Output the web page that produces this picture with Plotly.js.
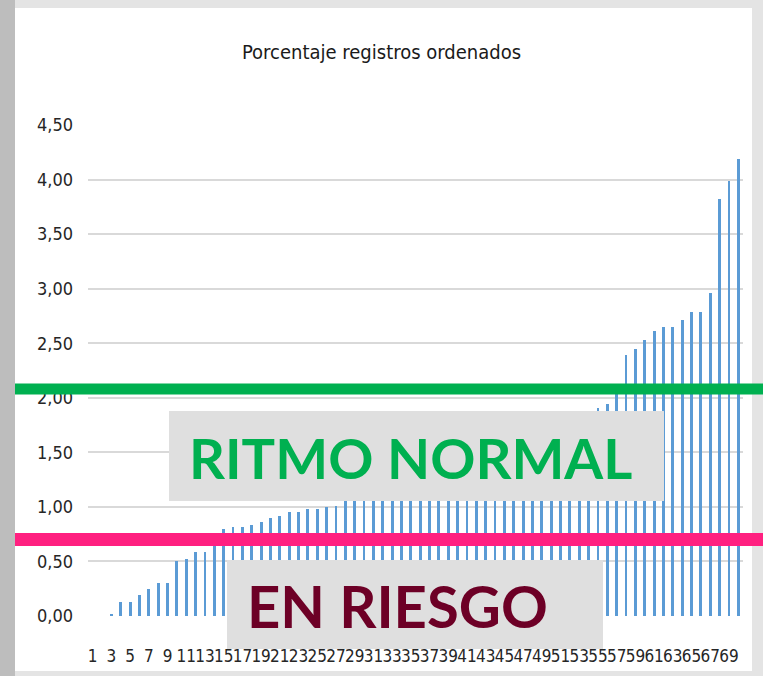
<!DOCTYPE html>
<html>
<head>
<meta charset="utf-8">
<script src="https://cdn.plot.ly/plotly-3.0.1.min.js"></script>
<style>html,body{margin:0;padding:0;background:#e4e4e4;}#chart{width:763px;height:676px;}</style>
</head>
<body>
<div id="chart"></div>
<script>
// Category numbers (records ordered)
var categories = [];
for (var i = 1; i <= 70; i++) categories.push(i);

// Percentages (bars 28-54 are hidden by the label box; estimated)
var values = [
  0.00, 0.00, 0.02, 0.13, 0.13, 0.19, 0.25, 0.30, 0.30, 0.50,
  0.52, 0.59, 0.59, 0.66, 0.80, 0.82, 0.82, 0.83, 0.86, 0.90,
  0.92, 0.95, 0.95, 0.98, 0.98, 1.00, 1.01, 1.05, 1.07, 1.08,
  1.10, 1.12, 1.14, 1.16, 1.18, 1.20, 1.22, 1.25, 1.27, 1.30,
  1.33, 1.36, 1.39, 1.42, 1.45, 1.49, 1.52, 1.56, 1.60, 1.64,
  1.69, 1.74, 1.79, 1.85, 1.91, 1.94, 2.05, 2.39, 2.45, 2.53,
  2.61, 2.65, 2.65, 2.71, 2.79, 2.79, 2.96, 3.82, 3.99, 4.19
];

var xTickVals = categories.filter(function (c) { return c % 2 === 1; });
var xTickText = xTickVals.map(String);
var yTickVals = [0, 0.5, 1, 1.5, 2, 2.5, 3, 3.5, 4, 4.5];

var normalLevel = 2.08;
var riskLevel = 0.70;
var normalLabel = 'RITMO NORMAL';
var riskLabel = 'EN RIESGO';
var chartTitle = 'Porcentaje registros ordenados';

var narrow = '"Liberation Sans Narrow", "DejaVu Sans Condensed", Arial, sans-serif';

var trace = {
  type: 'bar',
  x: categories,
  y: values,
  width: 0.3,
  marker: { color: '#5b9bd5', line: { width: 0 } },
  hoverinfo: 'x+y'
};

// plot area: x 88..743, y 125..616 (px)
function px2x(px) { return (px - 88) / 655; }
function py2y(py) { return (616 - py) / 491; }

var layout = {
  width: 763,
  height: 676,
  margin: { l: 88, r: 20, t: 125, b: 60, pad: 0 },
  paper_bgcolor: '#e4e4e4',
  plot_bgcolor: 'rgba(0,0,0,0)',
  separators: ',.',
  showlegend: false,
  bargap: 0,
  title: {
    text: chartTitle,
    font: { family: narrow, size: 20, color: '#1a1a1a' },
    x: 0.5, xanchor: 'center',
    y: 1 - 52 / 676, yanchor: 'middle'
  },
  xaxis: {
    range: [0.5, 70.5],
    tickmode: 'array',
    tickvals: xTickVals,
    ticktext: xTickText,
    tickangle: 0,
    showgrid: false,
    zeroline: false,
    showline: false,
    ticks: '',
    tickfont: { family: narrow, size: 17, color: '#262626' },
    ticklabelstandoff: 28
  },
  yaxis: {
    range: [0, 4.5],
    tickmode: 'array',
    tickvals: yTickVals,
    tickformat: '.2f',
    showgrid: true,
    gridcolor: '#d9d9d9',
    gridwidth: 2,
    zeroline: false,
    showline: false,
    ticks: '',
    ticklabelstandoff: 14,
    tickfont: { family: narrow, size: 18, color: '#262626' }
  },
  shapes: [
    // white chart card
    { type: 'rect', xref: 'paper', yref: 'paper', layer: 'below',
      x0: px2x(15), x1: px2x(752), y0: py2y(671), y1: py2y(8),
      fillcolor: '#ffffff', line: { width: 0 } },
    // left shading strip
    { type: 'rect', xref: 'paper', yref: 'paper', layer: 'below',
      x0: px2x(0), x1: px2x(15), y0: py2y(676), y1: py2y(0),
      fillcolor: '#bdbdbd', line: { width: 0 } },
    // green threshold line
    { type: 'line', xref: 'paper', yref: 'y', layer: 'above',
      x0: px2x(15), x1: px2x(763), y0: normalLevel, y1: normalLevel,
      line: { color: '#00b050', width: 11 } },
    // pink threshold line
    { type: 'line', xref: 'paper', yref: 'y', layer: 'above',
      x0: px2x(15), x1: px2x(763), y0: riskLevel, y1: riskLevel,
      line: { color: '#ff2080', width: 13 } },
    // label boxes
    { type: 'rect', xref: 'paper', yref: 'paper', layer: 'above',
      x0: px2x(169), x1: px2x(664), y0: py2y(501), y1: py2y(411),
      fillcolor: '#dfdfdf', line: { width: 0 } },
    { type: 'rect', xref: 'paper', yref: 'paper', layer: 'above',
      x0: px2x(227), x1: px2x(603), y0: py2y(649), y1: py2y(560),
      fillcolor: '#dfdfdf', line: { width: 0 } }
  ],
  annotations: [
    { xref: 'paper', yref: 'paper', x: px2x(410), y: py2y(457),
      xanchor: 'center', yanchor: 'middle', showarrow: false,
      text: '<b>' + normalLabel + '</b>',
      font: { family: 'Lato, "Noto Sans", sans-serif', size: 56, color: '#00b050' } },
    { xref: 'paper', yref: 'paper', x: px2x(397), y: py2y(605),
      xanchor: 'center', yanchor: 'middle', showarrow: false,
      text: '<b>' + riskLabel + '</b>',
      font: { family: 'Lato, "Noto Sans", sans-serif', size: 58, color: '#6d0026' } }
  ]
};

Plotly.newPlot('chart', [trace], layout, { displayModeBar: false, staticPlot: true });
</script>
</body>
</html>
